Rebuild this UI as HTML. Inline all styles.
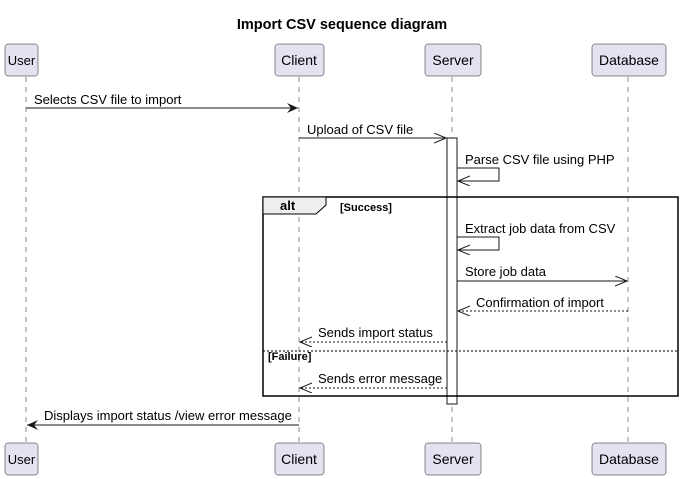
<!DOCTYPE html>
<html><head><style>body{margin:0;background:#fff}svg{display:block}text{font-family:"Liberation Sans",sans-serif}</style></head><body>
<svg width="682" height="479" xmlns="http://www.w3.org/2000/svg">
<defs>
<marker id="f" markerWidth="12" markerHeight="10" refX="11" refY="5" orient="auto" markerUnits="userSpaceOnUse"><path d="M0,0 L11,5 L0,10 L4,5 Z" fill="#181818"/></marker>
<marker id="o" markerWidth="14" markerHeight="12" refX="12" refY="5" orient="auto" markerUnits="userSpaceOnUse"><path d="M0,0 L12,5 L0,10" fill="none" stroke="#181818"/></marker>
</defs>
<text x="342" y="29" text-anchor="middle" font-size="14.5" font-weight="bold">Import CSV sequence diagram</text>
<g stroke="#181818" stroke-dasharray="5,5" stroke-width="0.5">
<line x1="26" y1="77" x2="26" y2="443"/><line x1="299" y1="77" x2="299" y2="443"/><line x1="452" y1="77" x2="452" y2="443"/><line x1="628" y1="77" x2="628" y2="443"/>
</g>
<g fill="#E2E2F0" stroke="#181818" stroke-width="0.5">
<rect x="5" y="44" width="33" height="32" rx="3"/><rect x="275" y="44" width="49" height="32" rx="3"/><rect x="425" y="44" width="56" height="32" rx="3"/><rect x="592" y="44" width="74" height="32" rx="3"/>
<rect x="5" y="443" width="33" height="32" rx="3"/><rect x="275" y="443" width="49" height="32" rx="3"/><rect x="425" y="443" width="56" height="32" rx="3"/><rect x="592" y="443" width="74" height="32" rx="3"/>
</g>
<g font-size="14" fill="#000" text-anchor="middle">
<text x="21.5" y="65" font-size="13">User</text><text x="299" y="65">Client</text><text x="453" y="65">Server</text><text x="629" y="65">Database</text>
<text x="21.5" y="464" font-size="13">User</text><text x="299" y="464">Client</text><text x="453" y="464">Server</text><text x="629" y="464">Database</text>
</g>
<rect x="447" y="138" width="10" height="266" fill="#fff" stroke="#181818"/>
<rect x="263" y="197" width="415" height="199" fill="none" stroke="#000" stroke-width="1.5"/>
<path d="M263,197 L326,197 L326,205 L316,214 L263,214 Z" fill="#EEEEEE" stroke="#000"/>
<text x="280" y="210" font-size="13" font-weight="bold">alt</text>
<text x="340" y="211" font-size="11" font-weight="bold">[Success]</text>
<line x1="263" y1="351" x2="678" y2="351" stroke="#000" stroke-dasharray="2,2"/>
<text x="268" y="360" font-size="11" font-weight="bold">[Failure]</text>
<g stroke="#181818" fill="none">
<line x1="26" y1="108" x2="298" y2="108" marker-end="url(#f)"/>
<line x1="299" y1="138" x2="446" y2="138" marker-end="url(#o)"/>
<polyline points="457,168 499,168 499,181 458,181" marker-end="url(#o)"/>
<polyline points="457,237 499,237 499,250 458,250" marker-end="url(#o)"/>
<line x1="457" y1="281" x2="627" y2="281" marker-end="url(#o)"/>
<line x1="628" y1="311" x2="458" y2="311" stroke-dasharray="2,2" marker-end="url(#o)"/>
<line x1="447" y1="342" x2="300" y2="342" stroke-dasharray="2,2" marker-end="url(#o)"/>
<line x1="447" y1="388" x2="300" y2="388" stroke-dasharray="2,2" marker-end="url(#o)"/>
<line x1="299" y1="425" x2="27" y2="425" marker-end="url(#f)"/>
</g>
<g font-size="13" fill="#000">
<text x="34" y="104">Selects CSV file to import</text>
<text x="307" y="134">Upload of CSV file</text>
<text x="465" y="164">Parse CSV file using PHP</text>
<text x="465" y="233">Extract job data from CSV</text>
<text x="465" y="276">Store job data</text>
<text x="476" y="307">Confirmation of import</text>
<text x="318" y="337">Sends import status</text>
<text x="318" y="383">Sends error message</text>
<text x="44" y="420">Displays import status /view error message</text>
</g>
</svg>
</body></html>
